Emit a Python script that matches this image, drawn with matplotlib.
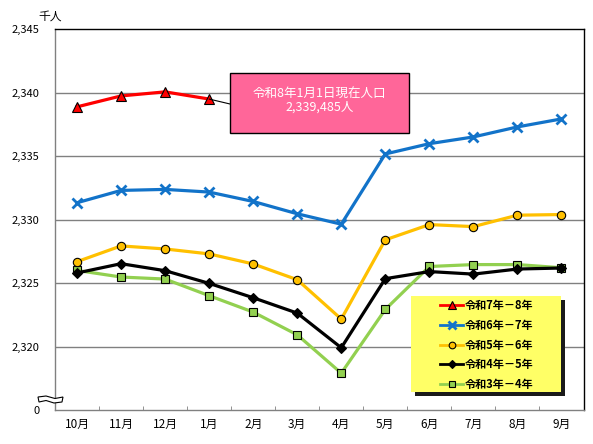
import matplotlib
matplotlib.use("Agg")
import matplotlib.pyplot as plt
from matplotlib.patches import Rectangle, Polygon
import numpy as np

plt.rcParams['font.family'] = ['Noto Sans CJK JP', 'DejaVu Sans']

months = ['10月', '11月', '12月', '1月', '2月', '3月', '4月', '5月', '6月', '7月', '8月', '9月']
series_names = ['令和7年－8年', '令和6年－7年', '令和5年－6年', '令和4年－5年', '令和3年－4年']
r7_8 = [2338.87, 2339.73, 2340.05, 2339.485]
r6_7 = [2331.32, 2332.29, 2332.37, 2332.16, 2331.42, 2330.45, 2329.63, 2335.16, 2335.97, 2336.50, 2337.29, 2337.92]
r5_6 = [2326.68, 2327.92, 2327.68, 2327.29, 2326.50, 2325.26, 2322.16, 2328.40, 2329.60, 2329.44, 2330.34, 2330.39]
r4_5 = [2325.79, 2326.52, 2325.97, 2324.97, 2323.84, 2322.63, 2319.90, 2325.34, 2325.90, 2325.70, 2326.10, 2326.18]
r3_4 = [2325.99, 2325.47, 2325.31, 2324.00, 2322.71, 2320.92, 2317.90, 2322.92, 2326.30, 2326.45, 2326.45, 2326.20]
yticks = [2315, 2320, 2325, 2330, 2335, 2340, 2345]
ytick_labels = ['0', '2,320', '2,325', '2,330', '2,335', '2,340', '2,345']
note_text = '令和8年1月1日現在人口\n2,339,485人'

W, H = 593, 444
fig = plt.figure(figsize=(W / 100, H / 100), dpi=100)
L, R, T, B = 55, 583.5, 29, 410
ax = fig.add_axes([L / W, 1 - B / H, (R - L) / W, (B - T) / H])

x = np.arange(len(months))
styles = [
    dict(color='#FF0000', marker='^', ms=7, mfc='#FF0000', mec='black', mew=0.8),
    dict(color='#1273C9', marker='x', ms=7, mfc='#1273C9', mec='#1273C9', mew=2.0),
    dict(color='#FFC000', marker='o', ms=6, mfc='#FFC000', mec='black', mew=0.8),
    dict(color='#000000', marker='D', ms=5, mfc='black', mec='black', mew=0.8),
    dict(color='#92D050', marker='s', ms=6, mfc='#92D050', mec='black', mew=0.8),
]
data = [r7_8, r6_7, r5_6, r4_5, r3_4]
lines = []
for i in range(len(data) - 1, -1, -1):
    vals = data[i]
    ln, = ax.plot(x[:len(vals)], vals, lw=2.3, label=series_names[i], zorder=3 + (5 - i), **styles[i])
    lines.append((i, ln))
lines.sort()

ax.set_xlim(-0.5, len(months) - 0.5)
ax.set_ylim(2315, 2345)
ax.set_yticks(yticks)
ax.set_yticklabels(ytick_labels, fontsize=8)
ax.set_xticks(x)
ax.set_xticklabels(months, fontsize=8.5)
ax.set_xticks(np.arange(0.5, len(months) - 1, 1), minor=True)
ax.tick_params(axis='x', which='major', length=0, pad=6)
ax.tick_params(axis='x', which='minor', length=3, direction='in', color='#808080')
ax.tick_params(axis='y', length=0, pad=11)
for yv in yticks[1:-1]:
    ax.axhline(yv, color='#808080', lw=1, zorder=1)
ax.spines['top'].set_color('black')
ax.spines['right'].set_color('black')
ax.spines['left'].set_color('#808080')
ax.spines['bottom'].set_color('#808080')
for s in ax.spines.values():
    s.set_linewidth(1)

fig.text(38 / W, 1 - 16 / H, '千人', fontsize=8.5, va='center', ha='left')

def px(xp, yp):
    return ((xp - L) / (R - L), (B - yp) / (B - T))

# axis break mark
pts = [px(38, 397), px(46, 396), px(55, 398.5), px(63, 397), px(62, 402), px(54, 403), px(46, 400.5), px(39, 402)]
ax.add_patch(Polygon(pts, closed=True, transform=ax.transAxes, facecolor='white',
                     edgecolor='black', lw=0.8, clip_on=False, zorder=10))

# annotation box
bx0, bx1, by0, by1 = 230, 409, 72.7, 132.7
x0, y0 = px(bx0, by1)
x1, y1 = px(bx1, by0)
ax.add_patch(Rectangle((x0, y0), x1 - x0, y1 - y0, transform=ax.transAxes,
                       facecolor='#FF6699', edgecolor='black', lw=1, zorder=12))
ax.annotate('', xy=(3, r7_8[3]), xytext=px(bx0, 104), textcoords='axes fraction',
            arrowprops=dict(arrowstyle='-', color='black', lw=0.8, shrinkA=0, shrinkB=0), zorder=11)
cx, cy = px((bx0 + bx1) / 2, 101)
ax.text(cx, cy, note_text, transform=ax.transAxes, ha='center', va='center',
        color='white', fontsize=9, linespacing=1.0, zorder=13)

# legend box with shadow
lx0, lx1, ly0, ly1 = 411, 561, 296, 392
sx0, sy0 = px(lx0 + 4, ly1 + 4)
sx1, sy1 = px(lx1 + 4, ly0 + 4)
ax.add_patch(Rectangle((sx0, sy0), sx1 - sx0, sy1 - sy0, transform=ax.transAxes,
                       facecolor='#1a1a1a', edgecolor='none', zorder=18))
gx0, gy0 = px(lx0, ly1)
gx1, gy1 = px(lx1, ly0)
ax.add_patch(Rectangle((gx0, gy0), gx1 - gx0, gy1 - gy0, transform=ax.transAxes,
                       facecolor='#FFFF66', edgecolor='none', zorder=19))

handles = [ln for _, ln in lines]
leg = ax.legend(handles, series_names, loc='center', bbox_to_anchor=px((lx0 + lx1) / 2 + 1, (ly0 + ly1) / 2 + 1),
                frameon=False, prop={'size': 8, 'weight': 'bold'}, handlelength=2.1, numpoints=1,
                labelspacing=0.6, borderpad=0, handletextpad=0.15, borderaxespad=0)
leg.set_zorder(20)
for h in leg.legend_handles:
    h.set_linewidth(2.0)
    h.set_markersize(h.get_markersize() * 0.8)

fig.savefig('out.png', dpi=100)
